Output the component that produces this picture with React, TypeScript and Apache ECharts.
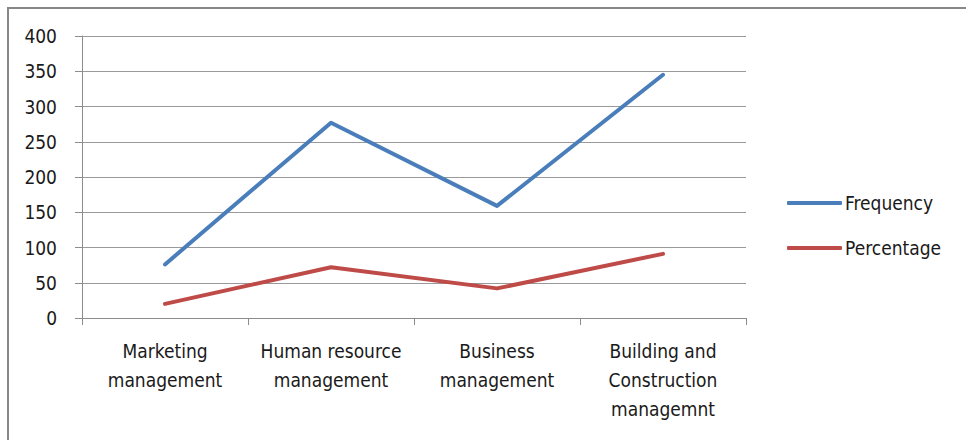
import React, { useEffect, useRef } from "react";
import * as echarts from "echarts";

const categories = [
  "Marketing\nmanagement",
  "Human resource\nmanagement",
  "Business\nmanagement",
  "Building and\nConstruction\nmanagemnt",
];
const frequency = [76, 277, 159, 345];
const percentage = [20, 72, 42, 91];
const yTicks = { min: 0, max: 400, interval: 50 };

const FONT = '"DejaVu Sans Condensed", "Liberation Sans Narrow", sans-serif';

export default function App() {
  const ref = useRef<HTMLDivElement>(null);
  useEffect(() => {
    if (!ref.current) return;
    const chart = echarts.init(ref.current, undefined, { renderer: "svg" });
    chart.setOption({
      animation: false,
      backgroundColor: "#ffffff",
      textStyle: { fontFamily: FONT },
      graphic: [
        {
          type: "rect",
          shape: { x: 8, y: 8, width: 980, height: 460 },
          style: { fill: "none", stroke: "#878787", lineWidth: 2 },
          silent: true,
        },
      ],
      grid: { left: 82, right: 220, top: 36, bottom: 122, containLabel: false },
      legend: {
        orient: "vertical",
        left: 787,
        top: 192,
        padding: 0,
        icon: "roundRect",
        itemWidth: 55,
        itemHeight: 4,
        itemGap: 23,
        textStyle: {
          fontFamily: FONT,
          fontSize: 19,
          lineHeight: 22,
          color: "#1a1a1a",
          padding: [0, 0, 0, -2],
        },
        data: ["Frequency", "Percentage"],
      },
      xAxis: {
        type: "category",
        data: categories,
        boundaryGap: true,
        axisLine: { show: true, lineStyle: { color: "#8c8c8c", width: 1 } },
        axisTick: { show: true, length: 7, inside: false, lineStyle: { color: "#8c8c8c" } },
        axisLabel: {
          fontFamily: FONT,
          fontSize: 19,
          lineHeight: 29,
          color: "#1a1a1a",
          margin: 18,
          interval: 0,
        },
      },
      yAxis: {
        type: "value",
        min: yTicks.min,
        max: yTicks.max,
        interval: yTicks.interval,
        axisLine: { show: true, lineStyle: { color: "#8c8c8c", width: 1 } },
        axisTick: { show: true, length: 7, inside: false, lineStyle: { color: "#8c8c8c" } },
        splitLine: { show: true, lineStyle: { color: "#9a9a9a", width: 1 } },
        axisLabel: {
          fontFamily: FONT,
          fontSize: 19,
          color: "#1a1a1a",
          margin: 25,
        },
      },
      series: [
        {
          name: "Frequency",
          type: "line",
          data: frequency,
          symbol: "none",
          color: "#4a7ebb",
          lineStyle: { color: "#4a7ebb", width: 4, cap: "round", join: "round" },
        },
        {
          name: "Percentage",
          type: "line",
          data: percentage,
          symbol: "none",
          color: "#be4b48",
          lineStyle: { color: "#be4b48", width: 4, cap: "round", join: "round" },
        },
      ],
    });
    return () => chart.dispose();
  }, []);
  return (
    <div
      ref={ref}
      style={{ position: "absolute", left: 0, top: 0, width: 966, height: 440 }}
    />
  );
}
